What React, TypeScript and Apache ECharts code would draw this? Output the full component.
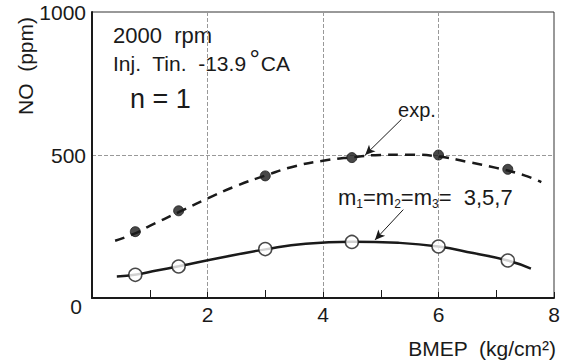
import React, { useEffect, useRef } from "react";
import * as echarts from "echarts";

// ---- data ----
const xTicks = [0, 2, 4, 6, 8];
const yTicks = [0, 500, 1000];

const pointX = [0.75, 1.5, 3, 4.5, 6, 7.2];
const expValues = [232, 305, 427, 491, 500, 450];
const modelValues = [81, 110, 171, 196, 180, 131];

const expCurveX = [0.4, 0.77, 1.0, 1.5, 2.0, 2.5, 3.0, 3.5, 4.0, 4.5, 5.0, 5.5, 6.0, 6.5, 7.0, 7.5, 7.78];
const expCurveY = [200, 228, 252, 300, 348, 392, 428, 460, 480, 492, 500, 501, 495, 476, 455, 428, 405];

const modelCurveX = [0.43, 0.77, 1.12, 1.5, 2.2, 3.0, 3.7, 4.5, 5.3, 6.0, 6.6, 7.2, 7.6];
const modelCurveY = [75, 82, 96, 111, 140, 170, 190, 197, 193, 180, 157, 131, 103];

// annotation arrows (data coordinates: [start], [tip])
const expArrow = [[5.36, 625], [4.73, 500]];
const modelArrow = [[5.39, 309], [4.9, 203]];

const FONT = "Liberation Sans";
const INK = "#1a1a1a";

export default function App() {
  const ref = useRef<HTMLDivElement>(null);

  useEffect(() => {
    if (!ref.current) return;
    const chart = echarts.init(ref.current, undefined, { renderer: "svg" });

    const zip = (xs: number[], ys: number[]) => xs.map((x, i) => [x, ys[i]]);

    chart.setOption({
      animation: false,
      backgroundColor: "#fff",
      grid: {
        left: 92,
        right: 11,
        top: 12,
        bottom: 63,
        show: true,
        borderColor: "#333",
        borderWidth: 1,
      },
      xAxis: {
        type: "value",
        min: xTicks[0],
        max: xTicks[xTicks.length - 1],
        interval: 2,
        axisLine: { show: true, onZero: false, lineStyle: { color: INK, width: 2 } },
        axisTick: { show: true, inside: true, length: 6, lineStyle: { color: INK, width: 1 } },
        minorTick: { show: true, splitNumber: 2, length: 8, lineStyle: { color: INK, width: 1 } },
        splitLine: { show: true, lineStyle: { color: "#999", width: 1, type: [4, 2] } },
        axisLabel: {
          fontSize: 21,
          fontFamily: FONT,
          color: INK,
          margin: 6,
          formatter: (v: number) => (v === 0 ? "" : String(v)),
        },
      },
      yAxis: {
        type: "value",
        min: yTicks[0],
        max: yTicks[yTicks.length - 1],
        interval: 500,
        axisLine: { show: true, onZero: false, lineStyle: { color: INK, width: 2 } },
        axisTick: { show: false },
        splitLine: { show: true, lineStyle: { color: "#999", width: 1, type: [4, 2] } },
        axisLabel: {
          fontSize: 21,
          fontFamily: FONT,
          color: INK,
          margin: 6,
          formatter: (v: number) => (v === 0 ? "{z|0}" : String(v)),
          rich: {
            z: { fontSize: 21, fontFamily: FONT, color: INK, padding: [16, 4, 0, 0] },
          },
        },
      },
      series: [
        {
          type: "line",
          data: zip(expCurveX, expCurveY),
          smooth: true,
          showSymbol: false,
          symbol: "none",
          lineStyle: { color: INK, width: 2.5, type: [10, 7] },
          z: 2,
          markLine: {
            silent: true,
            symbol: ["none", "arrow"],
            symbolSize: [7, 10],
            lineStyle: { color: INK, width: 1, type: "solid" },
            label: { show: false },
            data: [
              [{ coord: expArrow[0] }, { coord: expArrow[1] }],
              [{ coord: modelArrow[0] }, { coord: modelArrow[1] }],
            ],
          },
        },
        {
          type: "line",
          data: zip(modelCurveX, modelCurveY),
          smooth: true,
          showSymbol: false,
          symbol: "none",
          lineStyle: { color: INK, width: 2.5 },
          z: 2,
        },
        {
          type: "scatter",
          data: zip(pointX, expValues),
          symbol: "circle",
          symbolSize: 10,
          itemStyle: { color: INK, borderColor: INK, borderWidth: 1 },
          z: 3,
        },
        {
          type: "scatter",
          data: zip(pointX, modelValues),
          symbol: "circle",
          symbolSize: 13,
          itemStyle: { color: "#fff", borderColor: INK, borderWidth: 1.5 },
          z: 3,
        },
      ],
      graphic: [
        {
          type: "text",
          x: 113,
          y: 35,
          style: { text: "2000  rpm", fontSize: 22, fontFamily: FONT, fill: INK, verticalAlign: "middle", align: "left" },
        },
        {
          type: "text",
          x: 113,
          y: 63,
          style: {
            text: "Inj.  Tin.  -13.9{d|°}CA",
            fontSize: 21,
            fontFamily: FONT,
            fill: INK,
            verticalAlign: "middle",
            align: "left",
            rich: { d: { fontSize: 26, fontFamily: FONT, fill: INK, padding: [0, 1, 8, 3] } },
          },
        },
        {
          type: "text",
          x: 130,
          y: 99,
          style: { text: "n = 1", fontSize: 27, fontFamily: FONT, fill: INK, verticalAlign: "middle", align: "left" },
        },
        {
          type: "text",
          x: 417,
          y: 110,
          style: { text: "exp.", fontSize: 20, fontFamily: FONT, fill: INK, verticalAlign: "middle", align: "center" },
        },
        {
          type: "text",
          x: 338,
          y: 197,
          style: {
            text: "m{s|1}=m{s|2}=m{s|3}=  3,5,7",
            fontSize: 22,
            fontFamily: FONT,
            fill: INK,
            verticalAlign: "middle",
            align: "left",
            lineHeight: 26,
            rich: {
              s: { fontSize: 12, fontFamily: FONT, fill: INK, lineHeight: 12, verticalAlign: "bottom" },
            },
          },
        },
        {
          type: "text",
          x: 25,
          y: 66,
          rotation: Math.PI / 2,
          style: { text: "NO  (ppm)", fontSize: 21, fontFamily: FONT, fill: INK, verticalAlign: "middle", align: "center" },
        },
        {
          type: "text",
          x: 556,
          y: 348,
          style: { text: "BMEP  (kg/cm²)", fontSize: 21, fontFamily: FONT, fill: INK, verticalAlign: "middle", align: "right" },
        },
      ],
    });

    return () => chart.dispose();
  }, []);

  return (
    <div
      ref={ref}
      style={{ position: "fixed", left: 0, top: 0, width: 565, height: 361, background: "#fff" }}
    />
  );
}
